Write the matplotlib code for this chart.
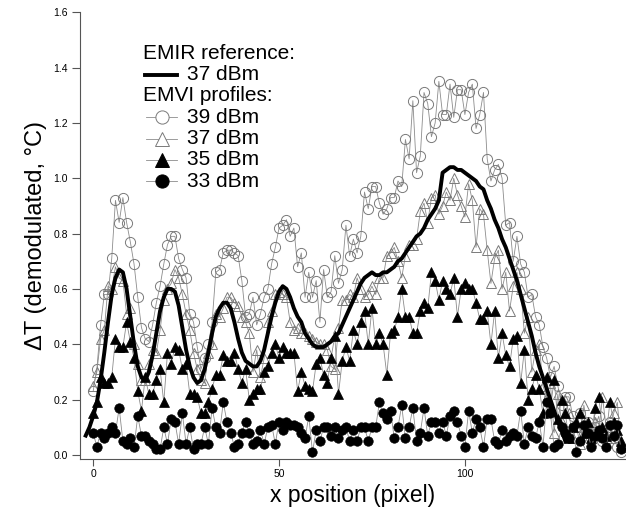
import matplotlib
matplotlib.use("Agg")
import matplotlib.pyplot as plt
from matplotlib.lines import Line2D
import numpy as np

plt.rcParams["font.family"] = ["Liberation Sans", "DejaVu Sans"]

# ── data ─────────────────────────────────────────────────────────────────────
X_EMVI = list(range(0, 143))

EMVI_39 = [
    0.23, 0.31, 0.47, 0.58, 0.58, 0.71, 0.92, 0.84, 0.93, 0.84,
    0.77, 0.69, 0.57, 0.46, 0.42, 0.41, 0.47, 0.55, 0.61, 0.69,
    0.76, 0.79, 0.79, 0.71, 0.67, 0.64, 0.51, 0.48, 0.39, 0.31,
    0.35, 0.40, 0.48, 0.66, 0.67, 0.73, 0.74, 0.74, 0.73, 0.72,
    0.63, 0.50, 0.51, 0.57, 0.47, 0.51, 0.57, 0.60, 0.69, 0.75,
    0.82, 0.83, 0.85, 0.79, 0.82, 0.68, 0.73, 0.57, 0.66, 0.57,
    0.63, 0.48, 0.67, 0.57, 0.59, 0.72, 0.62, 0.67, 0.83, 0.72,
    0.78, 0.73, 0.79, 0.95, 0.89, 0.97, 0.97, 0.91, 0.87, 0.89,
    0.93, 0.93, 0.99, 0.97, 1.14, 1.07, 1.28, 1.02, 1.08, 1.31,
    1.27, 1.15, 1.20, 1.35, 1.23, 1.23, 1.34, 1.22, 1.32, 1.32,
    1.23, 1.31, 1.34, 1.18, 1.23, 1.31, 1.07, 0.99, 1.03, 1.05,
    1.00, 0.83, 0.84, 0.70, 0.79, 0.69, 0.66, 0.57, 0.58, 0.50,
    0.47, 0.39, 0.35, 0.28, 0.32, 0.25, 0.18, 0.21, 0.21, 0.14,
    0.10, 0.15, 0.08, 0.12, 0.06, 0.10, 0.14, 0.05, 0.09, 0.12,
    0.06, 0.03, 0.01,
]

EMVI_37 = [
    0.25, 0.30, 0.42, 0.45, 0.61, 0.60, 0.68, 0.64, 0.63, 0.51,
    0.53, 0.40, 0.33, 0.27, 0.27, 0.33, 0.38, 0.37, 0.45, 0.56,
    0.60, 0.62, 0.67, 0.64, 0.58, 0.51, 0.45, 0.37, 0.31, 0.27,
    0.26, 0.37, 0.40, 0.51, 0.50, 0.53, 0.57, 0.57, 0.55, 0.54,
    0.50, 0.48, 0.44, 0.30, 0.38, 0.28, 0.35, 0.48, 0.52, 0.58,
    0.59, 0.58, 0.57, 0.48, 0.45, 0.46, 0.44, 0.44, 0.43, 0.42,
    0.41, 0.40, 0.40, 0.38, 0.32, 0.31, 0.46, 0.56, 0.56, 0.58,
    0.57, 0.64, 0.60, 0.57, 0.58, 0.61, 0.58, 0.64, 0.64, 0.72,
    0.73, 0.75, 0.70, 0.64, 0.72, 0.76, 0.76, 0.78, 0.88, 0.91,
    0.84, 0.93, 0.94, 0.87, 0.90, 0.95, 0.92, 1.00, 0.94, 0.90,
    0.86, 0.98, 0.92, 0.75, 0.89, 0.87, 0.74, 0.62, 0.71, 0.74,
    0.60, 0.66, 0.52, 0.61, 0.66, 0.60, 0.44, 0.50, 0.30, 0.38,
    0.40, 0.25, 0.21, 0.26, 0.08, 0.22, 0.12, 0.20, 0.15, 0.06,
    0.10, 0.04, 0.18, 0.10, 0.05, 0.12, 0.08, 0.21, 0.10, 0.06,
    0.15, 0.19, 0.03,
]

EMVI_35 = [
    0.15, 0.19, 0.28, 0.26, 0.26, 0.28, 0.42, 0.39, 0.39, 0.48,
    0.41, 0.35, 0.23, 0.16, 0.28, 0.22, 0.22, 0.27, 0.31, 0.19,
    0.37, 0.33, 0.39, 0.38, 0.31, 0.33, 0.22, 0.22, 0.21, 0.15,
    0.15, 0.19, 0.24, 0.29, 0.29, 0.36, 0.34, 0.34, 0.37, 0.31,
    0.26, 0.31, 0.20, 0.22, 0.24, 0.24, 0.30, 0.32, 0.37, 0.40,
    0.35, 0.39, 0.37, 0.37, 0.37, 0.23, 0.30, 0.25, 0.24, 0.23,
    0.33, 0.35, 0.29, 0.26, 0.35, 0.43, 0.22, 0.34, 0.39, 0.34,
    0.45, 0.40, 0.48, 0.52, 0.40, 0.53, 0.40, 0.44, 0.40, 0.29,
    0.44, 0.45, 0.50, 0.60, 0.50, 0.50, 0.44, 0.44, 0.52, 0.55,
    0.53, 0.66, 0.63, 0.56, 0.63, 0.60, 0.58, 0.64, 0.50, 0.60,
    0.62, 0.60, 0.60, 0.55, 0.49, 0.49, 0.52, 0.40, 0.52, 0.35,
    0.44, 0.36, 0.32, 0.42, 0.43, 0.26, 0.38, 0.20, 0.24, 0.29,
    0.24, 0.15, 0.28, 0.17, 0.27, 0.13, 0.20, 0.15, 0.06, 0.10,
    0.12, 0.15, 0.08, 0.12, 0.06, 0.17, 0.21, 0.10, 0.07, 0.19,
    0.12, 0.09, 0.05,
]

EMVI_33 = [
    0.08, 0.03, 0.08, 0.06, 0.08, 0.10, 0.08, 0.17, 0.05, 0.04,
    0.06, 0.03, 0.14, 0.07, 0.07, 0.05, 0.04, 0.02, 0.02, 0.10,
    0.04, 0.13, 0.12, 0.04, 0.15, 0.04, 0.10, 0.02, 0.04, 0.04,
    0.10, 0.04, 0.17, 0.10, 0.08, 0.19, 0.12, 0.08, 0.03, 0.04,
    0.08, 0.12, 0.08, 0.04, 0.05, 0.09, 0.04, 0.10, 0.11, 0.04,
    0.12, 0.09, 0.12, 0.11, 0.11, 0.10, 0.08, 0.06, 0.14, 0.01,
    0.09, 0.05, 0.10, 0.10, 0.07, 0.10, 0.06, 0.09, 0.10, 0.05,
    0.09, 0.05, 0.10, 0.10, 0.05, 0.10, 0.10, 0.19, 0.15, 0.13,
    0.16, 0.06, 0.10, 0.18, 0.06, 0.10, 0.17, 0.05, 0.08, 0.17,
    0.07, 0.12, 0.12, 0.08, 0.12, 0.07, 0.14, 0.16, 0.12, 0.07,
    0.03, 0.16, 0.08, 0.13, 0.10, 0.03, 0.13, 0.13, 0.05, 0.04,
    0.09, 0.05, 0.07, 0.08, 0.07, 0.16, 0.04, 0.10, 0.07, 0.06,
    0.12, 0.03, 0.19, 0.15, 0.03, 0.04, 0.10, 0.08, 0.06, 0.10,
    0.01, 0.05, 0.11, 0.08, 0.03, 0.07, 0.09, 0.06, 0.03, 0.11,
    0.07, 0.11, 0.02,
]

X_EMIR = list(range(-2, 128))
EMIR_37 = [
    0.07, 0.10,
    0.14, 0.19, 0.27, 0.37, 0.48, 0.58, 0.64, 0.67, 0.66, 0.60,
    0.50, 0.40, 0.32, 0.28, 0.27, 0.30, 0.36, 0.44, 0.52, 0.57,
    0.60, 0.60, 0.59, 0.54, 0.46, 0.38, 0.32, 0.28, 0.26, 0.27,
    0.31, 0.37, 0.44, 0.50, 0.53, 0.55, 0.55, 0.53, 0.48, 0.42,
    0.37, 0.34, 0.33, 0.32, 0.32, 0.34, 0.38, 0.44, 0.50, 0.55,
    0.59, 0.61, 0.60, 0.57, 0.53, 0.50, 0.48, 0.44, 0.42, 0.40,
    0.39, 0.39, 0.39, 0.40, 0.41, 0.43, 0.44, 0.47, 0.50, 0.53,
    0.56, 0.59, 0.62, 0.64, 0.65, 0.66, 0.65, 0.65, 0.66, 0.66,
    0.67, 0.68, 0.70, 0.71, 0.73, 0.75, 0.77, 0.79, 0.80, 0.82,
    0.85, 0.87, 0.89, 0.92, 1.02, 1.03, 1.04, 1.04, 1.03, 1.03,
    1.02, 1.01, 1.00, 0.99, 0.97, 0.96, 0.92, 0.89, 0.85, 0.82,
    0.78, 0.75, 0.71, 0.67, 0.63, 0.58, 0.53, 0.48, 0.43, 0.37,
    0.32, 0.28, 0.24, 0.20, 0.16, 0.12, 0.09, 0.05,
]

LEGEND_ROWS = [
    ("EMIR reference:", None),
    ("37 dBm", "emir"),
    ("EMVI profiles:", None),
    ("39 dBm", "o_open"),
    ("37 dBm", "^_open"),
    ("35 dBm", "^_fill"),
    ("33 dBm", "o_fill"),
]

GRAY = "#7a7a7a"
LINE_GRAY = "#8c8c8c"


def main():
    fig = plt.figure(figsize=(6.26, 5.08), dpi=100)
    ax = fig.add_axes([0.128, 0.0965, 0.870, 0.8795])

    common = dict(linewidth=0.6, color=LINE_GRAY)
    ax.plot(X_EMVI, EMVI_39, marker="o", markersize=7.3, markerfacecolor="none",
            markeredgecolor=GRAY, markeredgewidth=0.7, **common)
    ax.plot(X_EMVI, EMVI_37, marker="^", markersize=7.5, markerfacecolor="none",
            markeredgecolor=GRAY, markeredgewidth=0.7, **common)
    ax.plot(X_EMVI, EMVI_35, marker="^", markersize=7.5, markerfacecolor="black",
            markeredgecolor="black", markeredgewidth=0.5, **common)
    ax.plot(X_EMVI, EMVI_33, marker="o", markersize=6.8, markerfacecolor="black",
            markeredgecolor="black", markeredgewidth=0.5, **common)
    ax.plot(X_EMIR, EMIR_37, color="black", linewidth=2.8, solid_joinstyle="round")

    ax.set_xlim(-3.5, 143)
    ax.set_ylim(-0.0145, 1.6)
    ax.set_xticks([0, 50, 100])
    ax.set_yticks(np.arange(0, 1.61, 0.2))
    ax.set_yticklabels([f"{v:.1f}" for v in np.arange(0, 1.61, 0.2)])

    for side in ["top", "right"]:
        ax.spines[side].set_visible(False)
    for side in ["left", "bottom"]:
        ax.spines[side].set_color("#555555")
        ax.spines[side].set_linewidth(0.8)

    ax.tick_params(axis="y", direction="out", length=6, width=0.8,
                   colors="#555555", labelcolor="black", labelsize=7.5, pad=3)
    ax.tick_params(axis="x", direction="out", length=5, width=0.8,
                   colors="#555555", labelcolor="black", labelsize=7.5, pad=2)

    ax.set_xlabel("x position (pixel)", fontsize=16.5, labelpad=4)
    ax.set_ylabel("ΔT (demodulated, °C)", fontsize=17, labelpad=4)

    # legend block drawn by hand, as in the original
    y0, dy = 1.452, 0.0772
    for i, (label, kind) in enumerate(LEGEND_ROWS):
        y = y0 - i * dy
        if kind is None:
            ax.text(13.3, y, label, fontsize=15, va="center", ha="left")
            continue
        ax.text(25.3, y, label, fontsize=15, va="center", ha="left")
        if kind == "emir":
            ax.add_line(Line2D([14.0, 22.6], [y, y], color="black", linewidth=2.8))
        else:
            mk = kind[0]
            filled = kind.endswith("fill")
            ax.add_line(Line2D([14.2, 22.6], [y, y], color=LINE_GRAY, linewidth=0.6))
            ax.add_line(Line2D([18.4], [y], marker=mk, markersize=9.5,
                               markerfacecolor="black" if filled else "white",
                               markeredgecolor="black" if filled else GRAY,
                               markeredgewidth=0.7, linestyle="none"))

    fig.savefig("out.png", dpi=100)
    plt.close(fig)


if __name__ == "__main__":
    main()
